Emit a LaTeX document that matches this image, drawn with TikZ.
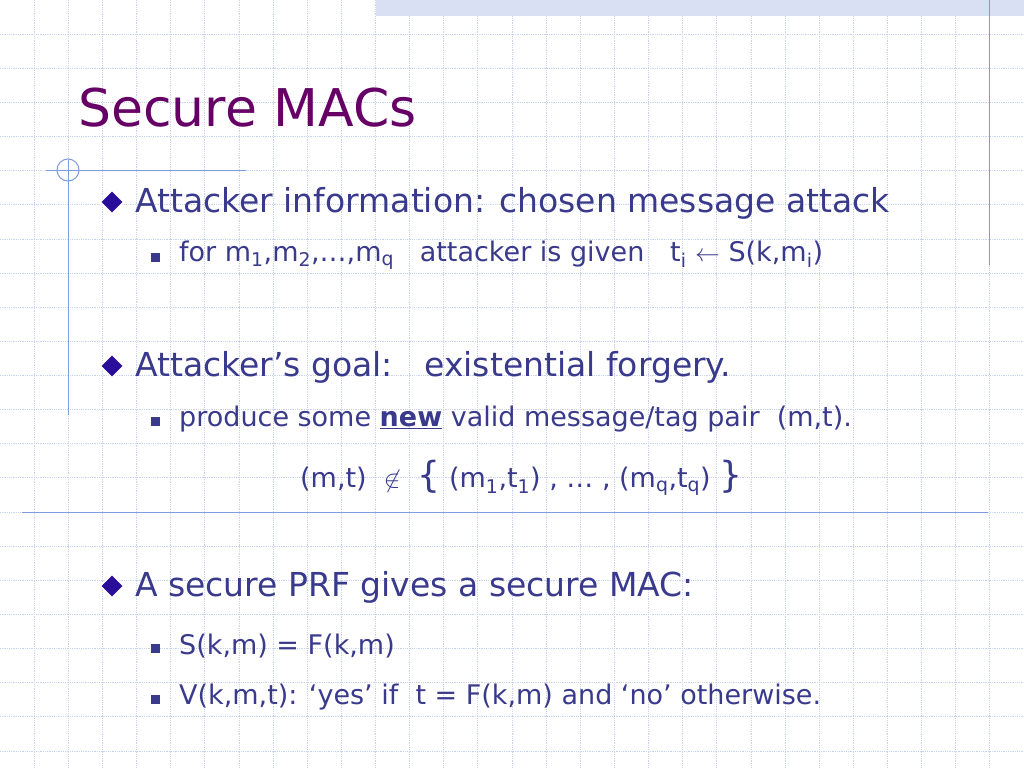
\documentclass[tikz,border=0pt]{standalone}
\usepackage{fontspec}
\setmainfont{DejaVu Sans}
\usetikzlibrary{shapes.geometric}
\definecolor{slidepurple}{HTML}{660066}
\definecolor{slideblue}{HTML}{3A3A8C}
\definecolor{gridblue}{HTML}{C9D3EE}
\definecolor{rulerblue}{HTML}{7F9BE0}
\definecolor{bulletblue}{HTML}{2A0D99}

\begin{document}
\begin{tikzpicture}[x=1pt,y=-1pt,
	lone/.style = {anchor=west, inner sep=0pt, text=slideblue, font=\fontsize{33}{38}\selectfont},
	ltwo/.style = {anchor=west, inner sep=0pt, text=slideblue, font=\fontsize{27}{32}\selectfont},
	dbullet/.style = {diamond, fill=bulletblue, draw=white, line width=1.5pt, minimum size=24pt, inner sep=0pt},
	sbullet/.style = {rectangle, fill=slideblue, minimum size=9pt, inner sep=0pt}]
	\useasboundingbox (0,0) rectangle (1024,768);
	\fill[white] (0,0) rectangle (1024,768);
	% background grid
	\foreach \i in {1,...,29}
		\draw[gridblue, densely dotted, line width=0.8pt] ({\i*34.133},0) -- ({\i*34.133},768);
	\foreach \j in {1,...,22}
		\draw[gridblue, densely dotted, line width=0.8pt] (0,{\j*34.133}) -- (1024,{\j*34.133});
	\fill[gridblue!70] (376,0) rectangle (1024,16);
	% rulers
	\draw[rulerblue, line width=1pt] (989,0) -- (989,265);
	\draw[rulerblue, line width=1pt] (68,160) -- (68,415);
	\draw[rulerblue, line width=1pt] (46,170) -- (246,170);
	\draw[rulerblue, line width=1pt] (68,170) circle (11);
	\draw[rulerblue, line width=1pt] (22,512) -- (988,512);
	% title
	\node[anchor=west, inner sep=0pt, text=slidepurple, font=\fontsize{52}{60}\selectfont] (title) at (78,108) {Secure MACs};
	% level one
	\node[dbullet] (b1) at (112,202) {};
	\node[lone] (info) at (135,203) {Attacker information: chosen message attack};
	\node[dbullet] (b2) at (112,366) {};
	\node[lone] (goal) at (135,367) {Attacker’s goal:\ \ \ existential forgery.};
	\node[dbullet] (b3) at (112,586) {};
	\node[lone] (prf) at (135,587) {A secure PRF gives a secure MAC:};
	% level two
	\node[sbullet] (s1) at (155,257) {};
	\node[ltwo] (given) at (179,255) {for m\textsubscript{1},m\textsubscript{2},…,m\textsubscript{q}\ \ \ attacker is given\ \ \ t\textsubscript{i} $\leftarrow$ S(k,m\textsubscript{i})};
	\node[sbullet] (s2) at (155,421) {};
	\node[ltwo] (pair) at (179,419) {produce some \underline{\textbf{new}} valid message/tag pair\ \ (m,t).};
	\node[ltwo] (notin) at (300,478) {(m,t)\ \ $\not\in$\ \ {\fontsize{36}{40}\selectfont\{} (m\textsubscript{1},t\textsubscript{1}) , … , (m\textsubscript{q},t\textsubscript{q}) {\fontsize{36}{40}\selectfont\}}};
	\node[sbullet] (s3) at (155,648) {};
	\node[ltwo] (sign) at (179,646) {S(k,m) = F(k,m)};
	\node[sbullet] (s4) at (155,699) {};
	\node[ltwo] (verify) at (179,697) {V(k,m,t): `yes’ if\ \ t = F(k,m) and `no’ otherwise.};
\end{tikzpicture}
\end{document}
